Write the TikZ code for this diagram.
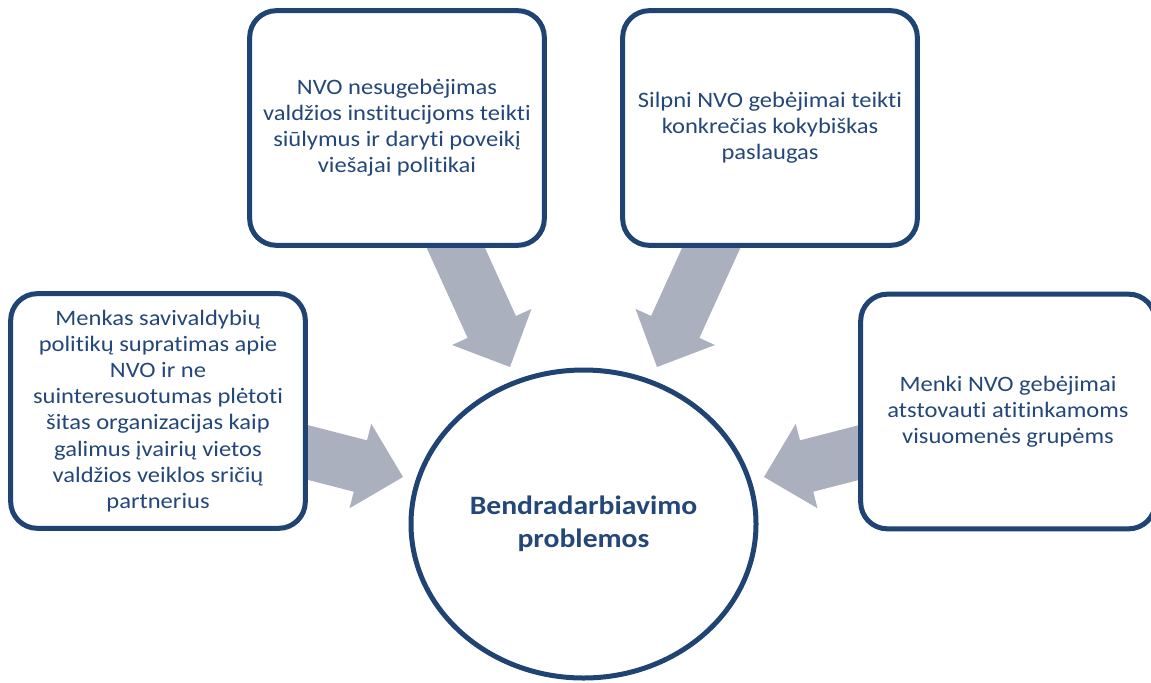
\documentclass[tikz,border=0pt]{standalone}
\usepackage{fontspec}
\setmainfont{Carlito}[FakeStretch=1.116, Ligatures=NoCommon]
\usetikzlibrary{calc,shapes.geometric}
\pgfdeclarelayer{background}
\pgfsetlayers{background,main}
\definecolor{navy}{HTML}{1F4373}
\definecolor{txtblue}{HTML}{24477A}
\definecolor{arrowgray}{HTML}{ABB0BF}
\tikzset{
  box/.style={draw=navy, line width=3.75pt, rounded corners=20pt, fill=white,
    minimum width=221pt, minimum height=176pt, inner sep=0pt, align=center,
    text=txtblue, font=\fontsize{16.5}{19.6}\selectfont},
  hub/.style={ellipse, draw=navy, line width=3.75pt, fill=white,
    minimum width=258.75pt, minimum height=231pt, inner sep=0pt, align=center,
    text=txtblue, font=\fontsize{19.9}{24.75}\selectfont\bfseries},
  blockarr/.style={fill=arrowgray, draw=none}
}
\def\shw{19.9pt}
\def\hhw{32.7pt}
\def\hl{33pt}
\newcommand\blockarrow[2]{%
  \coordinate (#2-b) at ($(#2)!\hl!(#1)$);
  \fill[blockarr] ($(#1)!\shw!90:(#2)$) -- ($(#2-b)!\shw!90:(#2)$)
    -- ($(#2-b)!\hhw!90:(#2)$) -- (#2) -- ($(#2-b)!\hhw!-90:(#2)$)
    -- ($(#2-b)!\shw!-90:(#2)$) -- ($(#1)!\shw!-90:(#2)$) -- cycle;}
\begin{document}
\begin{tikzpicture}[x=0.75pt,y=-0.75pt]
\useasboundingbox (0,0) rectangle (1151,682);
\clip (0,0) rectangle (1151,682);
\node[box] (b1) at (397,128) {NVO nesugebėjimas\\valdžios institucijoms teikti\\siūlymus ir daryti poveikį\\viešajai politikai};
\node[box] (b2) at (770,128) {Silpni NVO gebėjimai teikti\\konkrečias kokybiškas\\paslaugas};
\node[box] (b3) at (158,411) {Menkas savivaldybių\\politikų supratimas apie\\NVO ir ne\\suinteresuotumas plėtoti\\šitas organizacijas kaip\\galimus įvairių vietos\\valdžios veiklos sričių\\partnerius};
\node[box] (b4) at (1008,411.5) {Menki NVO gebėjimai\\atstovauti atitinkamoms\\visuomenės grupėms};
\node[hub] (hub) at (583.5,524) {Bendradarbiavimo\\problemos};
\coordinate (a1s) at (434,200);   \coordinate (a1t) at (510,367);
\coordinate (a2s) at (733,200);   \coordinate (a2t) at (657,367);
\coordinate (a3s) at (280,445.3); \coordinate (a3t) at (403,477);
\coordinate (a4s) at (887,445.3); \coordinate (a4t) at (764,477);
\begin{pgfonlayer}{background}
\blockarrow{a1s}{a1t}
\blockarrow{a2s}{a2t}
\blockarrow{a3s}{a3t}
\blockarrow{a4s}{a4t}
\end{pgfonlayer}
\end{tikzpicture}
\end{document}
